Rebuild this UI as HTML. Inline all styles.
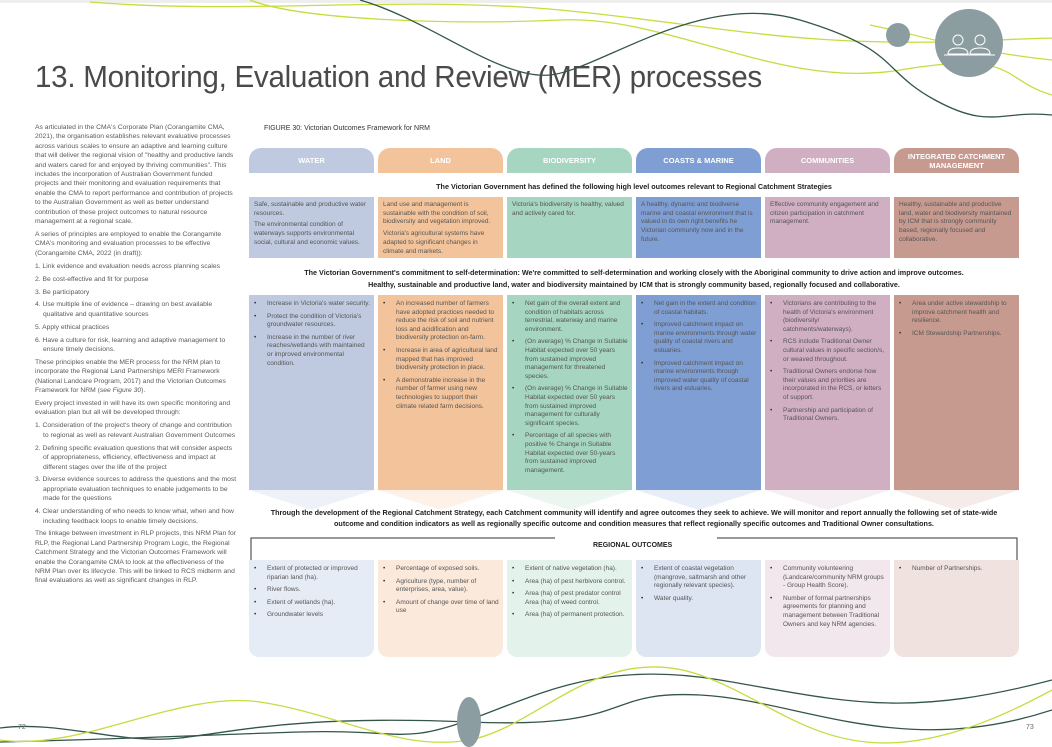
<!DOCTYPE html>
<html><head><meta charset="utf-8">
<style>
*{margin:0;padding:0;box-sizing:border-box}
body{width:1052px;height:747px;position:relative;overflow:hidden;background:#fff;font-family:"Liberation Sans",sans-serif;color:#555}
.a{position:absolute}
h1{position:absolute;left:35px;top:59px;font-weight:normal;font-size:31px;color:#4a4a4a;letter-spacing:-0.3px;transform:scaleX(0.955);transform-origin:left}
#left{position:absolute;left:35px;top:123px;width:202px;font-size:6.75px;line-height:9.4px;color:#5a5a5a}
#left p{margin-bottom:3.5px}
#left ol{list-style:none}
#left li{padding-left:8px;text-indent:-8px;margin-bottom:3.5px}
.tab{position:absolute;top:148px;width:125px;height:25px;border-radius:12px 12px 0 0;color:#fff;font-weight:bold;font-size:7.5px;text-align:center;display:flex;align-items:center;justify-content:center;line-height:9px}
.box{position:absolute;width:125px;font-size:6.5px;line-height:8.7px;padding:4px 5px;color:#555}
.box p{margin-bottom:3px}
.bl{position:absolute;width:125px;font-size:6.5px;line-height:8.6px;padding:5px 4px 0 4px;color:#555}
.bl ul{list-style:none}
.bl li{position:relative;padding-left:14px;margin-bottom:4px}
.bl li:before{content:"•";position:absolute;left:1px;color:#333}
.ctr{position:absolute;left:249px;width:770px;text-align:center;font-weight:bold;color:#222;font-size:7.2px}
</style></head><body>
<svg class="a" style="left:0;top:0" width="1052" height="747">
<rect x="0" y="0" width="1052" height="3" fill="#eee"/>
<path d="M90 2 C250 15 400 -5 560 10 S 800 50 1000 40 1052 60 1052 60" stroke="#c7dc3f" stroke-width="1.3" fill="none"/>
<path d="M250 0 C300 20 450 25 560 20 S 780 90 900 70 1000 80 1052 95" stroke="#c7dc3f" stroke-width="1.3" fill="none"/>
<path d="M360 0 C430 20 500 80 550 75 S 700 -10 800 20 880 70 935 100 1000 110 1052 115" stroke="#33554a" stroke-width="1.3" fill="none"/>
<path d="M870 25 C 920 35 960 50 1052 60" stroke="#c7dc3f" stroke-width="1.2" fill="none"/>
<circle cx="898" cy="35" r="12" fill="#8c9da1"/>
<circle cx="969" cy="43" r="34" fill="#8c9da1"/>
<g stroke="#fff" stroke-width="1" fill="none">
<circle cx="958" cy="40" r="5"/><path d="M948 54 q0-6 10-6 q10 0 10 6 z"/>
<circle cx="980" cy="40" r="5"/><path d="M970 54 q0-6 10-6 q10 0 10 6 z"/>
<line x1="944" y1="55" x2="995" y2="55"/></g>
<path d="M0 728 C60 720 120 745 180 738 S 300 715 469 722 S 600 690 700 695 900 760 1052 710" stroke="#33554a" stroke-width="1.3" fill="none"/>
<path d="M0 742 C100 740 200 735 300 732 S 400 745 469 720 S 600 660 720 680 900 720 1052 680" stroke="#33554a" stroke-width="1.3" fill="none"/>
<path d="M0 740 C80 752 180 690 260 702 S 400 752 469 740 S 600 640 700 675 S 850 800 1052 690" stroke="#c7dc3f" stroke-width="1.3" fill="none"/>
<ellipse cx="469" cy="722" rx="12" ry="25" fill="#8c9da1"/>
<polygon points="249,490 374,490 311.5,510" fill="#eef2f8"/>
<polygon points="378,490 503,490 440.5,510" fill="#fdf1e8"/>
<polygon points="507,490 632,490 569.5,510" fill="#ebf6f1"/>
<polygon points="636,490 761,490 698.5,510" fill="#e8eef8"/>
<polygon points="765,490 890,490 827.5,510" fill="#f5eef2"/>
<polygon points="894,490 1019,490 956.5,510" fill="#f5ebe8"/>
<path d="M251 560 V538 H555" stroke="#333" stroke-width="1" fill="none"/>
<path d="M717 538 H1017 V560" stroke="#333" stroke-width="1" fill="none"/>
</svg>
<h1>13. Monitoring, Evaluation and Review (MER) processes</h1>
<div id="left">
<p>As articulated in the CMA's Corporate Plan (Corangamite CMA, 2021), the organisation establishes relevant evaluative processes across various scales to ensure an adaptive and learning culture that will deliver the regional vision of "healthy and productive lands and waters cared for and enjoyed by thriving communities". This includes the incorporation of Australian Government funded projects and their monitoring and evaluation requirements that enable the CMA to report performance and contribution of projects to the Australian Government as well as better understand contribution of these project outcomes to natural resource management at a regional scale.</p>
<p>A series of principles are employed to enable the Corangamite CMA's monitoring and evaluation processes to be effective (Corangamite CMA, 2022 (in draft)):</p>
<ol><li>1. Link evidence and evaluation needs across planning scales</li><li>2. Be cost-effective and fit for purpose</li><li>3. Be participatory</li><li>4. Use multiple line of evidence – drawing on best available qualitative and quantitative sources</li><li>5. Apply ethical practices</li><li>6. Have a culture for risk, learning and adaptive management to ensure timely decisions.</li></ol>
<p>These principles enable the MER process for the NRM plan to incorporate the Regional Land Partnerships MERI Framework (National Landcare Program, 2017) and the Victorian Outcomes Framework for NRM (<i>see Figure 30</i>).</p>
<p>Every project invested in will have its own specific monitoring and evaluation plan but all will be developed through:</p>
<ol><li>1. Consideration of the project's theory of change and contribution to regional as well as relevant Australian Government Outcomes</li><li>2. Defining specific evaluation questions that will consider aspects of appropriateness, efficiency, effectiveness and impact at different stages over the life of the project</li><li>3. Diverse evidence sources to address the questions and the most appropriate evaluation techniques to enable judgements to be made for the questions</li><li>4. Clear understanding of who needs to know what, when and how including feedback loops to enable timely decisions.</li></ol>
<p>The linkage between investment in RLP projects, this NRM Plan for RLP, the Regional Land Partnership Program Logic, the Regional Catchment Strategy and the Victorian Outcomes Framework will enable the Corangamite CMA to look at the effectiveness of the NRM Plan over its lifecycle. This will be linked to RCS midterm and final evaluations as well as significant changes in RLP.</p>
</div>
<div class="a" style="left:264px;top:125px;font-size:7px;color:#333">FIGURE 30: Victorian Outcomes Framework for NRM</div>

<div class="tab" style="left:249px;background:#bfcae0">WATER</div>
<div class="tab" style="left:378px;background:#f3c49b">LAND</div>
<div class="tab" style="left:507px;background:#a6d5c2">BIODIVERSITY</div>
<div class="tab" style="left:636px;background:#7f9fd4">COASTS &amp; MARINE</div>
<div class="tab" style="left:765px;background:#d0afc3">COMMUNITIES</div>
<div class="tab" style="left:894px;background:#c79a90">INTEGRATED CATCHMENT<br>MANAGEMENT</div>

<div class="ctr" style="top:182px">The Victorian Government has defined the following high level outcomes relevant to Regional Catchment Strategies</div>

<div class="box" style="left:249px;top:197px;height:61px;background:#bfcae0"><p>Safe, sustainable and productive water resources.</p><p>The environmental condition of waterways supports environmental social, cultural and economic values.</p></div>
<div class="box" style="left:378px;top:197px;height:61px;background:#f3c49b"><p>Land use and management is sustainable with the condition of soil, biodiversity and vegetation improved.</p><p>Victoria's agricultural systems have adapted to significant changes in climate and markets.</p></div>
<div class="box" style="left:507px;top:197px;height:61px;background:#a6d5c2"><p>Victoria's biodiversity is healthy, valued and actively cared for.</p></div>
<div class="box" style="left:636px;top:197px;height:61px;background:#7f9fd4"><p>A healthy, dynamic and biodiverse marine and coastal environment that is valued in its own right benefits he Victorian community now and in the future.</p></div>
<div class="box" style="left:765px;top:197px;height:61px;background:#d0afc3"><p>Effective community engagement and citizen participation in catchment management.</p></div>
<div class="box" style="left:894px;top:197px;height:61px;background:#c79a90"><p>Healthy, sustainable and productive land, water and biodiversity maintained by ICM that is strongly community based, regionally focused and collaborative.</p></div>

<div class="ctr" style="top:267px;line-height:12px">The Victorian Government's commitment to self-determination: We're committed to self-determination and working closely with the Aboriginal community to drive action and improve outcomes.<br>Healthy, sustainable and productive land, water and biodiversity maintained by ICM that is strongly community based, regionally focused and collaborative.</div>

<div class="bl" style="left:249px;top:295px;height:195px;background:#bfcae0"><ul><li>Increase in Victoria's water security.</li><li>Protect the condition of Victoria's groundwater resources.</li><li>Increase in the number of river reaches/wetlands with maintained or improved environmental condition.</li></ul></div>
<div class="bl" style="left:378px;top:295px;height:195px;background:#f3c49b"><ul><li>An increased number of farmers have adopted practices needed to reduce the risk of soil and nutrient loss and acidification and biodiversity protection on-farm.</li><li>Increase in area of agricultural land mapped that has improved biodiversity protection in place.</li><li>A demonstrable increase in the number of farmer using new technologies to support their climate related farm decisions.</li></ul></div>
<div class="bl" style="left:507px;top:295px;height:195px;background:#a6d5c2"><ul><li>Net gain of the overall extent and condition of habitats across terrestrial, waterway and marine environment.</li><li>(On average) % Change in Suitable Habitat expected over 50 years from sustained improved management for threatened species.</li><li>(On average) % Change in Suitable Habitat expected over 50 years from sustained improved management for culturally significant species.</li><li>Percentage of all species with positive % Change in Suitable Habitat expected over 50-years from sustained improved management.</li></ul></div>
<div class="bl" style="left:636px;top:295px;height:195px;background:#7f9fd4"><ul><li>Net gain in the extent and condition of coastal habitats.</li><li>Improved catchment impact on marine environments through water quality of coastal rivers and estuaries.</li><li>Improved catchment impact on marine environments through improved water quality of coastal rivers and estuaries.</li></ul></div>
<div class="bl" style="left:765px;top:295px;height:195px;background:#d0afc3"><ul><li>Victorians are contributing to the health of Victoria's environment (biodiversity/ catchments/waterways).</li><li>RCS include Traditional Owner cultural values in specific section/s, or weaved throughout.</li><li>Traditional Owners endorse how their values and priorities are incorporated in the RCS, or letters of support.</li><li>Partnership and participation of Traditional Owners.</li></ul></div>
<div class="bl" style="left:894px;top:295px;height:195px;background:#c79a90"><ul><li>Area under active stewardship to improve catchment health and resilience.</li><li>ICM Stewardship Partnerships.</li></ul></div>

<div class="ctr" style="top:507px;line-height:11px">Through the development of the Regional Catchment Strategy, each Catchment community will identify and agree outcomes they seek to achieve. We will monitor and report annually the following set of state-wide<br>outcome and condition indicators as well as regionally specific outcome and condition measures that reflect regionally specific outcomes and Traditional Owner consultations.</div>
<div class="a" style="left:593px;top:542px;font-size:7px;font-weight:bold;color:#222">REGIONAL OUTCOMES</div>

<div class="bl" style="left:249px;top:560px;height:97px;background:#e6ecf5;border-radius:0 0 10px 10px"><ul><li>Extent of protected or improved riparian land (ha).</li><li>River flows.</li><li>Extent of wetlands (ha).</li><li>Groundwater levels</li></ul></div>
<div class="bl" style="left:378px;top:560px;height:97px;background:#fbe9dc;border-radius:0 0 10px 10px"><ul><li>Percentage of exposed soils.</li><li>Agriculture (type, number of enterprises, area, value).</li><li>Amount of change over time of land use</li></ul></div>
<div class="bl" style="left:507px;top:560px;height:97px;background:#e4f2ec;border-radius:0 0 10px 10px"><ul><li>Extent of native vegetation (ha).</li><li>Area (ha) of pest herbivore control.</li><li>Area (ha) of pest predator control Area (ha) of weed control.</li><li>Area (ha) of permanent protection.</li></ul></div>
<div class="bl" style="left:636px;top:560px;height:97px;background:#dde5f2;border-radius:0 0 10px 10px"><ul><li>Extent of coastal vegetation (mangrove, saltmarsh and other regionally relevant species).</li><li>Water quality.</li></ul></div>
<div class="bl" style="left:765px;top:560px;height:97px;background:#f1e7ec;border-radius:0 0 10px 10px"><ul><li>Community volunteering (Landcare/community NRM groups - Group Health Score).</li><li>Number of formal partnerships agreements for planning and management between Traditional Owners and key NRM agencies.</li></ul></div>
<div class="bl" style="left:894px;top:560px;height:97px;background:#f0e2df;border-radius:0 0 10px 10px"><ul><li>Number of Partnerships.</li></ul></div>

<div class="a" style="left:18px;top:724px;font-size:7px;color:#666">72</div>
<div class="a" style="left:1026px;top:724px;font-size:7px;color:#666">73</div>
</body></html>
